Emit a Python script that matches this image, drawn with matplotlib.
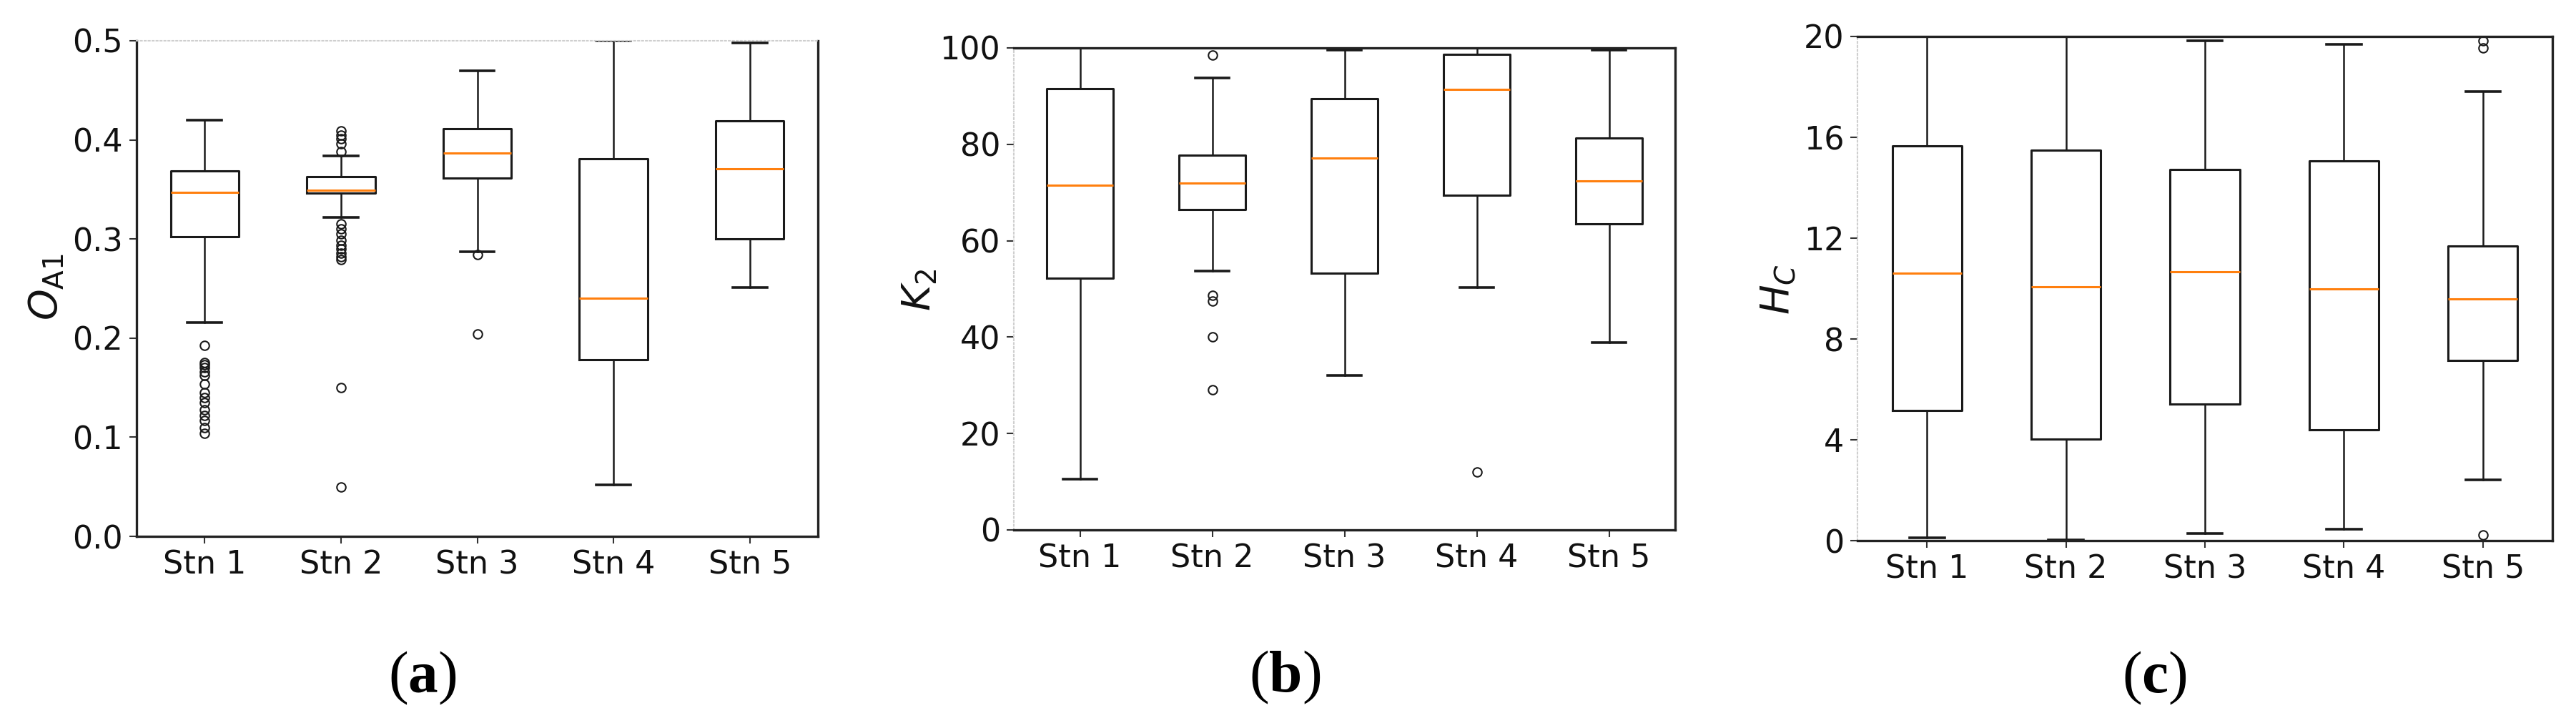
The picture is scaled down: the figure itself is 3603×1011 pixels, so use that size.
import matplotlib
matplotlib.use('Agg')
import matplotlib.pyplot as plt

plt.rcParams['mathtext.fontset'] = 'custom'
plt.rcParams['mathtext.it'] = 'DejaVu Sans:italic'
plt.rcParams['mathtext.rm'] = 'DejaVu Sans'
plt.rcParams['mathtext.bf'] = 'Liberation Serif:bold'
plt.rcParams['font.family'] = ['DejaVu Sans']

stations = ['Stn 1', 'Stn 2', 'Stn 3', 'Stn 4', 'Stn 5']

# ---- (a) O_A1 ----
oa1_whislo = [0.216, 0.322, 0.287, 0.052, 0.251]
oa1_q1 = [0.302, 0.346, 0.3615, 0.178, 0.300]
oa1_med = [0.347, 0.349, 0.387, 0.240, 0.371]
oa1_q3 = [0.369, 0.363, 0.411, 0.381, 0.419]
oa1_whishi = [0.420, 0.384, 0.470, 0.500, 0.498]
oa1_fliers = [
    [0.193, 0.175, 0.173, 0.170, 0.166, 0.162, 0.154, 0.145, 0.140,
     0.135, 0.128, 0.122, 0.117, 0.110, 0.104],
    [0.409, 0.405, 0.401, 0.396, 0.388, 0.315, 0.310, 0.305, 0.299,
     0.294, 0.290, 0.286, 0.282, 0.279, 0.150, 0.050],
    [0.284, 0.204],
    [],
    [],
]

# ---- (b) K_2 ----
k2_whislo = [10.6, 53.7, 32.1, 50.3, 38.8]
k2_q1 = [52.2, 66.4, 53.3, 69.5, 63.5]
k2_med = [71.5, 72.0, 77.2, 91.4, 72.4]
k2_q3 = [91.5, 77.7, 89.5, 98.6, 81.3]
k2_whishi = [100.0, 93.8, 99.6, 100.0, 99.6]
k2_fliers = [
    [],
    [98.5, 48.6, 47.5, 40.1, 29.1],
    [],
    [12.0],
    [],
]

# ---- (c) H_C ----
hc_whislo = [0.12, 0.04, 0.29, 0.44, 2.40]
hc_q1 = [5.17, 4.03, 5.41, 4.40, 7.16]
hc_med = [10.60, 10.06, 10.67, 9.99, 9.59]
hc_q3 = [15.65, 15.50, 14.73, 15.05, 11.68]
hc_whishi = [20.0, 20.0, 19.83, 19.68, 17.82]
hc_fliers = [[], [], [], [], [19.83, 19.55, 0.23]]

panels = [
    dict(whislo=oa1_whislo, q1=oa1_q1, med=oa1_med, q3=oa1_q3, whishi=oa1_whishi,
         fliers=oa1_fliers, ylim=(0, 0.5), yticks=[0.0, 0.1, 0.2, 0.3, 0.4, 0.5],
         ylabel=r'$O_{\mathrm{A1}}$', caption=r'($\mathbf{a}$)'),
    dict(whislo=k2_whislo, q1=k2_q1, med=k2_med, q3=k2_q3, whishi=k2_whishi,
         fliers=k2_fliers, ylim=(0, 100), yticks=[0, 20, 40, 60, 80, 100],
         ylabel=r'$K_{2}$', caption=r'($\mathbf{b}$)'),
    dict(whislo=hc_whislo, q1=hc_q1, med=hc_med, q3=hc_q3, whishi=hc_whishi,
         fliers=hc_fliers, ylim=(0, 20), yticks=[0, 4, 8, 12, 16, 20],
         ylabel=r'$H_{C}$', caption=r'($\mathbf{c}$)'),
]

W, H = 3603, 1011
fig = plt.figure(figsize=(W / 100, H / 100), dpi=100)

# axes boxes in pixels: left, right, top, bottom
boxes = [(191, 1144, 57, 750), (1418, 2343, 67, 741), (2598, 3570, 51, 756)]
ylabel_pos = [(65, 401), (1286, 405), (2488, 405)]
caption_pos = [(591, 948), (1797, 947), (3013, 948)]
faint_spine = ['top', 'left', 'left']

for i, p in enumerate(panels):
    l, r, t, b = boxes[i]
    ax = fig.add_axes([l / W, 1 - b / H, (r - l) / W, (b - t) / H])
    stats = []
    for j, name in enumerate(stations):
        stats.append(dict(label=name, med=p['med'][j], q1=p['q1'][j], q3=p['q3'][j],
                          whislo=p['whislo'][j], whishi=p['whishi'][j],
                          fliers=p['fliers'][j]))
    ax.bxp(stats, positions=[1, 2, 3, 4, 5], widths=0.5, showfliers=True,
           boxprops=dict(color='#1a1a1a', linewidth=2.2),
           whiskerprops=dict(color='#1a1a1a', linewidth=1.8),
           capprops=dict(color='#1a1a1a', linewidth=2.6),
           medianprops=dict(color='#ff7f0e', linewidth=2.2),
           flierprops=dict(marker='o', markerfacecolor='none', markeredgecolor='#1a1a1a',
                           markersize=9, markeredgewidth=1.5))
    ax.set_xlim(0.5, 5.5)
    ax.set_ylim(*p['ylim'])
    ax.set_yticks(p['yticks'])
    ax.set_xticks([1, 2, 3, 4, 5])
    ax.set_xticklabels(stations)
    ax.tick_params(axis='both', labelsize=32, length=7, width=1.5, pad=6.5,
                   color='#333333', labelcolor='#111111')
    for s in ['top', 'bottom', 'left', 'right']:
        ax.spines[s].set_linewidth(2.4)
        ax.spines[s].set_color('#222222')
    ax.spines[faint_spine[i]].set_color('#cfcfcf')
    ax.spines[faint_spine[i]].set_linestyle(':')
    ax.spines[faint_spine[i]].set_linewidth(1.5)

    x, y = ylabel_pos[i]
    fig.text(x / W, 1 - y / H, p['ylabel'], rotation=90, ha='center', va='center',
             fontsize=40, color='#111111')
    cx, cy = caption_pos[i]
    fig.text(cx / W, 1 - cy / H, p['caption'], ha='center', va='center',
             fontsize=60, family='Liberation Serif', color='black')

fig.savefig('out.png', dpi=100)
